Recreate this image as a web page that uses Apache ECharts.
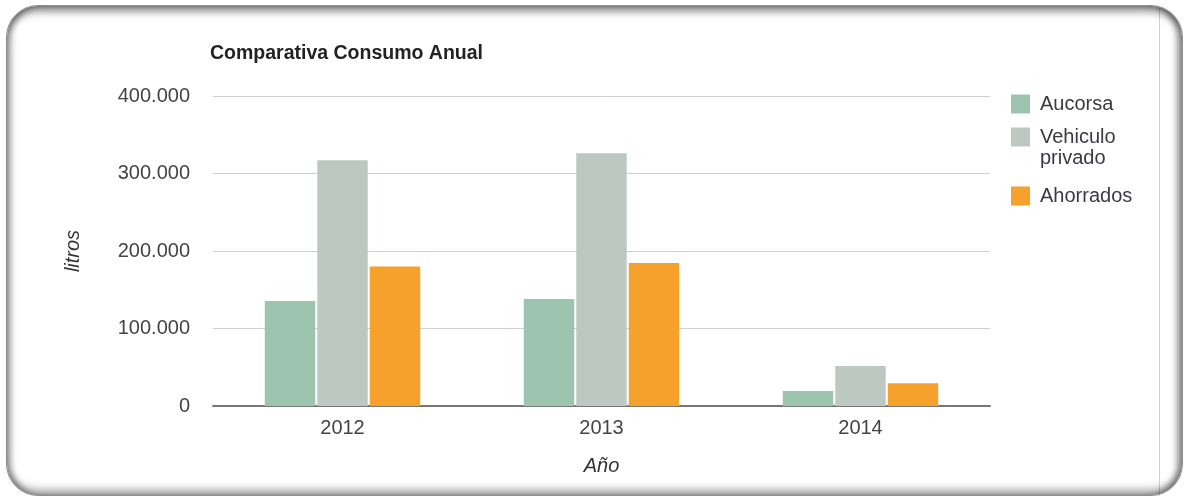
<!DOCTYPE html>
<html>
<head>
<meta charset="utf-8">
<script src="https://cdn.jsdelivr.net/npm/echarts@6/dist/echarts.min.js"></script>
<style>
  html, body { margin: 0; padding: 0; background: #fff; }
  #wrap { position: relative; width: 1186px; height: 500px; overflow: hidden; }
  #chart { position: absolute; left: 0; top: 0; width: 1186px; height: 500px; }
  #frame {
    position: absolute; left: 6px; top: 5px; width: 1175px; height: 489px;
    border: 1px solid #8f8f8f; border-radius: 32px; pointer-events: none;
    box-shadow: inset 0 10px 9px -5px rgba(0,0,0,0.5), inset 7px 0 6px -3px rgba(0,0,0,0.38),
                inset 0 -10px 9px -5px rgba(0,0,0,0.38), inset -8px 0 6px -3px rgba(0,0,0,0.42);
  }
  #vline { position: absolute; left: 1159px; top: 8px; width: 1px; height: 488px; background: #d8d0c8; pointer-events: none; }
</style>
</head>
<body>
<div id="wrap">
  <div id="chart"></div>
  <div id="vline"></div>
  <div id="frame"></div>
</div>
<script>
const categories = ['2012', '2013', '2014'];
const seriesNames = ['Aucorsa', 'Vehiculo privado', 'Ahorrados'];
const aucorsa = [135500, 138000, 19500];
const vehiculo = [317000, 326000, 51500];
const ahorrados = [180000, 184500, 29500];
const yTicks = [0, 100000, 200000, 300000, 400000];

const colors = ['#9dc4ae', '#bdc8c2', '#f5a12c'];
const font = 'Liberation Sans, Arial, sans-serif';

function fmt(v) {
  return String(v).replace(/\B(?=(\d{3})+(?!\d))/g, '.');
}

const chart = echarts.init(document.getElementById('chart'));
const legendBase = {
  orient: 'vertical', left: 1011, itemWidth: 19, itemHeight: 19, itemGap: 10,
  padding: 0, icon: 'rect',
  textStyle: { fontFamily: font, fontSize: 20, color: '#3a3a44', padding: [0, 0, 0, 5] }
};
chart.setOption({
  animation: false,
  color: colors,
  title: {
    text: 'Comparativa Consumo Anual', left: 205, top: 39,
    textStyle: { fontFamily: font, fontSize: 19.5, fontWeight: 'bold', color: '#222' }
  },
  legend: [
    Object.assign({}, legendBase, { top: 94, data: [seriesNames[0]] }),
    Object.assign({}, legendBase, { top: 127, data: [seriesNames[1]], formatter: () => 'Vehiculo' }),
    Object.assign({}, legendBase, { top: 186, data: [seriesNames[2]] })
  ],
  graphic: [{
    type: 'text', left: 1040, top: 148,
    style: { text: 'privado', fontFamily: font, fontSize: 20, fill: '#3a3a44' }
  }],
  grid: { left: 213, right: 196, top: 96, bottom: 94 },
  xAxis: {
    type: 'category', data: categories,
    name: 'Año', nameLocation: 'middle', nameGap: 50,
    nameTextStyle: { fontFamily: font, fontSize: 20, fontStyle: 'italic', color: '#333' },
    axisLine: { lineStyle: { color: '#777', width: 2 } },
    axisTick: { show: false },
    axisLabel: { fontFamily: font, fontSize: 20, color: '#444', margin: 12 }
  },
  yAxis: {
    type: 'value', min: yTicks[0], max: yTicks[yTicks.length - 1], interval: 100000,
    name: 'litros', nameLocation: 'middle', nameGap: 130,
    nameTextStyle: { fontFamily: font, fontSize: 20, fontStyle: 'italic', color: '#333' },
    axisLine: { show: false },
    axisTick: { show: false },
    axisLabel: { fontFamily: font, fontSize: 20, color: '#444', margin: 23, formatter: fmt },
    splitLine: { lineStyle: { color: '#cfcfcf', width: 1 } }
  },
  series: [
    { name: seriesNames[0], type: 'bar', data: aucorsa, barGap: '4%', barCategoryGap: '40%' },
    { name: seriesNames[1], type: 'bar', data: vehiculo, barGap: '4%', barCategoryGap: '40%' },
    { name: seriesNames[2], type: 'bar', data: ahorrados, barGap: '4%', barCategoryGap: '40%' }
  ]
});
</script>
</body>
</html>
